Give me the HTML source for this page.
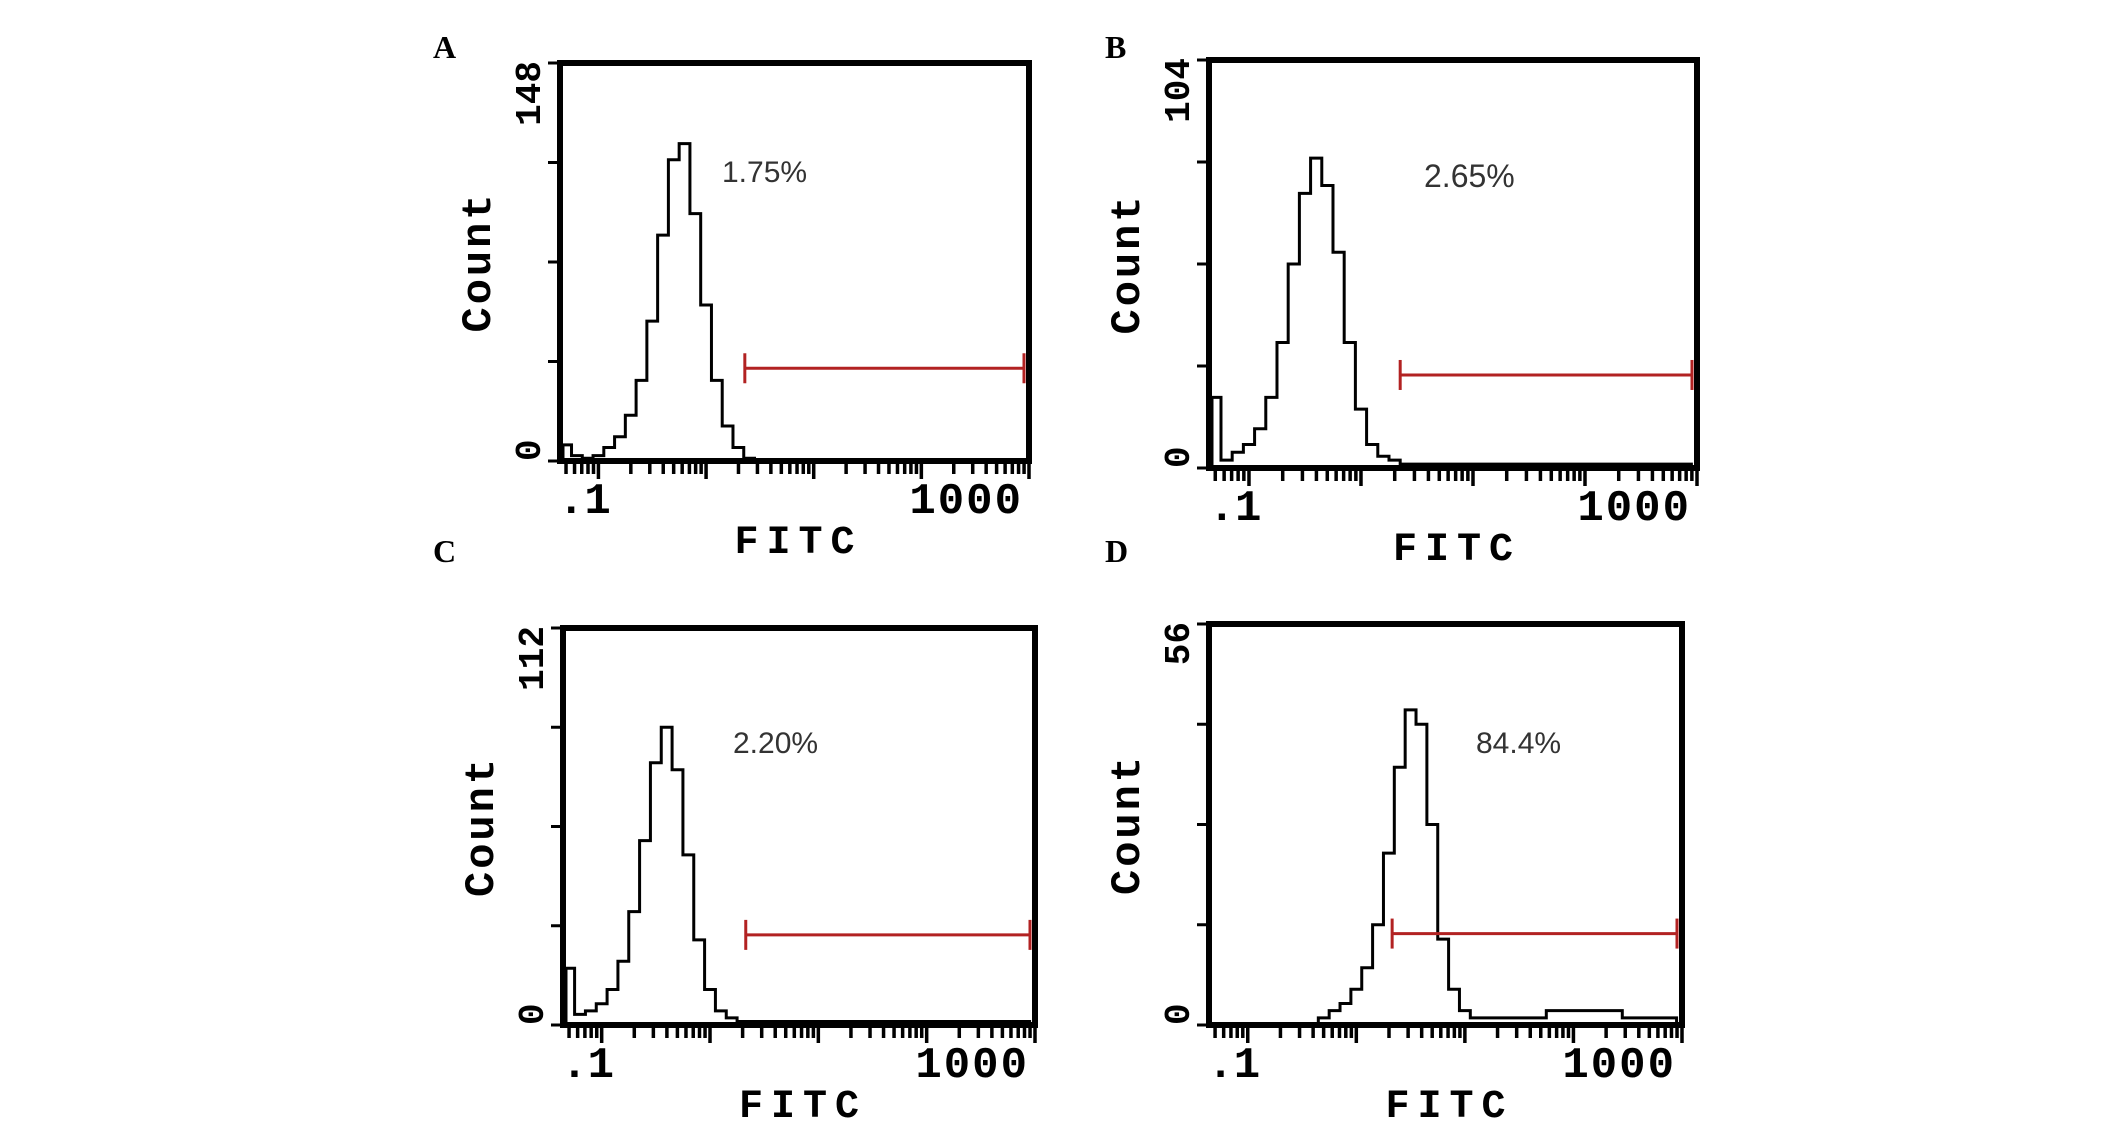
<!DOCTYPE html>
<html><head><meta charset="utf-8"><style>
html,body{margin:0;padding:0;background:#fff;}
svg{display:block;}
.ylab{font-family:"Liberation Mono",monospace;font-weight:bold;fill:#000;}
.lett{font-family:"Liberation Serif",serif;font-weight:bold;font-size:32px;fill:#000;}
.pct{font-family:"Liberation Sans",sans-serif;fill:#333;}
</style></head><body>
<svg id="fig" width="2126" height="1122" viewBox="0 0 2126 1122" xmlns="http://www.w3.org/2000/svg"></svg>
<script>
// log10 bin starts (0.1 step) and counts per panel
const binsA = [-1.35,-1.25,-1.15,-1.05,-0.95,-0.85,-0.75,-0.65,-0.55,-0.45,-0.35,-0.25,-0.15,-0.05,0.05,0.15,0.25,0.35];
const countsA = [6,2,1,2,5,9,17,30,52,84,112,118,92,58,30,13,5,1];
const binsB = [-1.35,-1.25,-1.15,-1.05,-0.95,-0.85,-0.75,-0.65,-0.55,-0.45,-0.35,-0.25,-0.15,-0.05,0.05,0.15,0.25,0.35,0.45,0.55,0.65,0.75,0.85,0.95,1.05,1.15,1.25,1.35,1.45,1.55,1.65,1.75,1.85,1.95,2.05,2.15,2.25,2.35,2.45,2.55,2.65,2.75,2.85];
const countsB = [18,2,4,6,10,18,32,52,70,79,72,55,32,15,6,3,2,1,1,1,1,1,1,1,1,1,1,1,1,1,1,1,1,1,1,1,1,1,1,1,1,1,1];
const binsC = [-1.35,-1.25,-1.15,-1.05,-0.95,-0.85,-0.75,-0.65,-0.55,-0.45,-0.35,-0.25,-0.15,-0.05,0.05,0.15,0.25,0.35,0.45,0.55,0.65,0.75,0.85,0.95,1.05,1.15,1.25,1.35,1.45,1.55,1.65,1.75,1.85,1.95,2.05,2.15,2.25,2.35,2.45,2.55,2.65,2.75,2.85];
const countsC = [16,3,4,6,10,18,32,52,74,84,72,48,24,10,4,2,1,1,1,1,1,1,1,1,1,1,1,1,1,1,1,1,1,1,1,1,1,1,1,1,1,1,1];
const binsD = [-0.35,-0.25,-0.15,-0.05,0.05,0.15,0.25,0.35,0.45,0.55,0.65,0.75,0.85,0.95,1.05,1.15,1.25,1.35,1.45,1.55,1.65,1.75,1.85,1.95,2.05,2.15,2.25,2.35,2.45,2.55,2.65,2.75,2.85];
const countsD = [1,2,3,5,8,14,24,36,44,42,28,12,5,2,1,1,1,1,1,1,1,2,2,2,2,2,2,2,1,1,1,1,1];
const yMaxes = [148,104,112,56];
const panelLetters = ["A","B","C","D"];
const percentLabels = ["1.75%","2.65%","2.20%","84.4%"];
const gateStarts = [0.36,0.35,0.33,0.33];
const gateLevelFrac = [0.233,0.228,0.227,0.228];

const NS="http://www.w3.org/2000/svg";
const svg=document.getElementById('fig');
function mk(tag,attrs,parent){const e=document.createElementNS(NS,tag);for(const k in attrs)e.setAttribute(k,attrs[k]);(parent||svg).appendChild(e);return e;}

const frames=[{x0:560,x1:1029,y0:63,y1:461,lx:433,ly:58},{x0:1209,x1:1697,y0:60,y1:468,lx:1105,ly:58},
{x0:563,x1:1035,y0:628,y1:1025,lx:433,ly:562},{x0:1209,x1:1682,y0:624,y1:1025,lx:1105,ly:562}];
const pctPos=[[722,182,30],[1424,187,32],[733,753,30],[1476,753,30]];
const allBins=[binsA,binsB,binsC,binsD], allCounts=[countsA,countsB,countsC,countsD];
const LMIN=-1.357, LMAX=3.0;

frames.forEach((f,i)=>{
  const g=mk('g',{});
  
  
  const xs=l=>f.x0+(l-LMIN)/(LMAX-LMIN)*(f.x1-f.x0);
  const ys=v=>f.y1-v/yMaxes[i]*(f.y1-f.y0);
  const b=allBins[i],c=allCounts[i];
  const start=Math.max(xs(b[0]),f.x0+3);
  let d='M'+start+','+ys(0);
  for(let k=0;k<b.length;k++){const xa=Math.max(xs(b[k]),f.x0+3),xb=Math.min(xs(b[k]+0.1),f.x1-3);d+=' L'+xa+','+ys(c[k])+' L'+xb+','+ys(c[k]);}
  d+=' L'+Math.min(xs(b[b.length-1]+0.1),f.x1-3)+','+ys(0);
  const h=mk('path',{d:d,fill:'none',stroke:'#000','stroke-width':3,'stroke-linejoin':'miter'},g);
  
  
  const gy=f.y1-gateLevelFrac[i]*(f.y1-f.y0), gx0=xs(gateStarts[i]), gx1=f.x1-5;
  const gate=mk('g',{stroke:'#b22222','stroke-width':3},g);
  
  
  mk('line',{x1:gx0,y1:gy,x2:gx1,y2:gy},gate);
  mk('line',{x1:gx0,y1:gy-15,x2:gx0,y2:gy+15},gate);
  mk('line',{x1:gx1,y1:gy-15,x2:gx1,y2:gy+15},gate);
  const fr=mk('rect',{x:f.x0,y:f.y0,width:f.x1-f.x0,height:f.y1-f.y0,fill:'none',stroke:'#000','stroke-width':6},g);
  
  
  for(let q=0;q<=4;q++){const y=f.y1-q/4*(f.y1-f.y0);mk('line',{x1:f.x0-12,y1:y,x2:f.x0,y2:y,stroke:'#000','stroke-width':3},g);}
  for(let dec=-2;dec<=3;dec++){for(let m=1;m<=9;m++){const l=dec+Math.log10(m);if(l<LMIN+0.02||l>LMAX+0.01)continue;const x=xs(l);mk('line',{x1:x,y1:f.y1,x2:x,y2:f.y1+(m===1?18:13),stroke:'#000','stroke-width':3.5},g);}}
  const t1=mk('text',{class:'ylab','font-size':36,transform:`translate(${f.x0-20},${f.y0-2}) rotate(-90)`,'text-anchor':'end'},g);
  t1.textContent=String(yMaxes[i]);
  const t0=mk('text',{class:'ylab','font-size':36,transform:`translate(${f.x0-20},${f.y1}) rotate(-90)`,'text-anchor':'start'},g);
  t0.textContent='0';
  const ct=mk('text',{class:'ylab','font-size':42,'letter-spacing':3,transform:`translate(${f.x0-70},${(f.y0+f.y1)/2}) rotate(-90)`,'text-anchor':'middle'},g);
  ct.textContent='Count';
  const xl=mk('text',{class:'ylab','font-size':44,x:xs(-1)-14,y:f.y1+52,'text-anchor':'middle'},g);
  xl.textContent='.1';
  const xr=mk('text',{class:'ylab','font-size':44,'letter-spacing':2,x:f.x1-6,y:f.y1+52,'text-anchor':'end'},g);
  xr.textContent='1000';
  const xt=mk('text',{class:'ylab','font-size':40,'letter-spacing':8,x:(f.x0+f.x1)/2+4,y:f.y1+92,'text-anchor':'middle'},g);
  xt.textContent='FITC';
  const le=mk('text',{class:'lett',x:f.lx,y:f.ly},g);
  le.textContent=panelLetters[i];
  const p=mk('text',{class:'pct',x:pctPos[i][0],y:pctPos[i][1],'font-size':pctPos[i][2]},g);
  p.textContent=percentLabels[i];
});
</script>
</body></html>
